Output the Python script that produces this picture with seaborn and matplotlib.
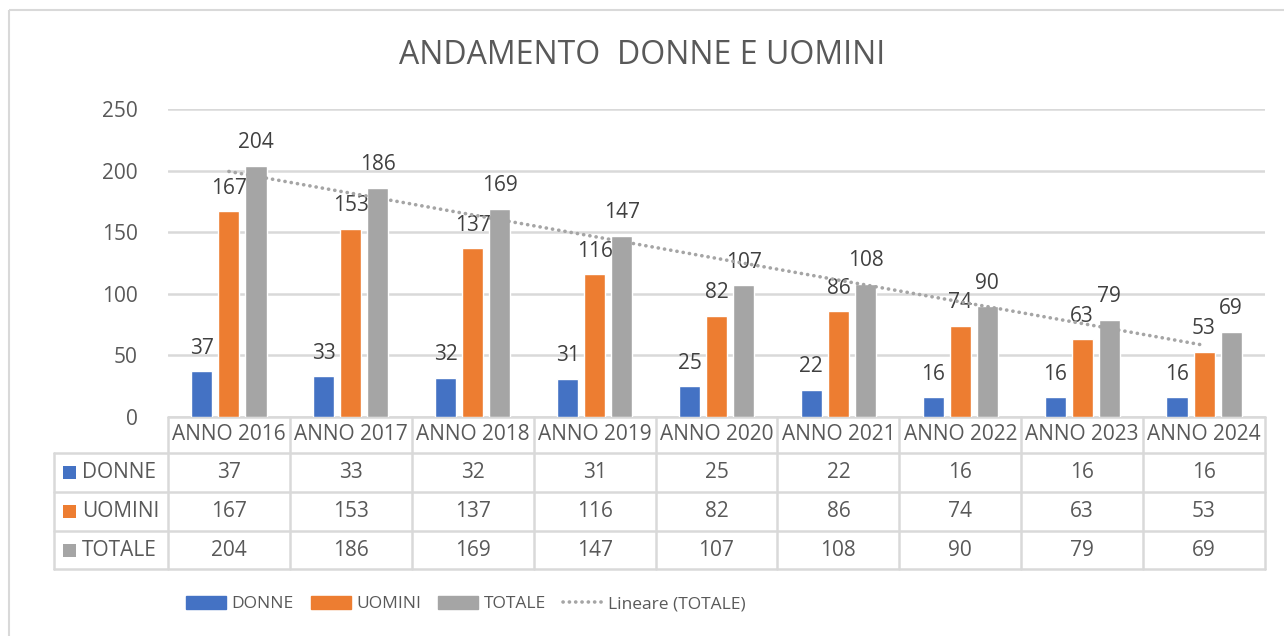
import numpy as np
import pandas as pd
import seaborn as sns
import matplotlib.pyplot as plt
from matplotlib import transforms
from matplotlib.patches import Patch, Rectangle
from matplotlib.lines import Line2D

# Data
anni = ["ANNO 2016", "ANNO 2017", "ANNO 2018", "ANNO 2019", "ANNO 2020",
        "ANNO 2021", "ANNO 2022", "ANNO 2023", "ANNO 2024"]
donne = [37, 33, 32, 31, 25, 22, 16, 16, 16]
uomini = [167, 153, 137, 116, 82, 86, 74, 63, 53]
totale = [204, 186, 169, 147, 107, 108, 90, 79, 69]
gruppi = ["DONNE", "UOMINI", "TOTALE"]
colori = ["#4472C4", "#ED7D31", "#A5A5A5"]
yticks = [0, 50, 100, 150, 200, 250]

serie = {"DONNE": donne, "UOMINI": uomini, "TOTALE": totale}
df = pd.DataFrame([(a, g, serie[g][i]) for g in gruppi for i, a in enumerate(anni)],
                  columns=["anno", "gruppo", "valore"])

sns.set_theme(style="white")
plt.rcParams['font.family'] = ['Open Sans', 'DejaVu Sans']
txt = "#595959"

W, H = 1284, 636
fig = plt.figure(figsize=(W / 100, H / 100), dpi=100)

# overlay in pixel coordinates (border, table, legend)
ov = fig.add_axes([0, 0, 1, 1])
ov.set_xlim(0, W)
ov.set_ylim(H, 0)
ov.axis("off")
ov.add_patch(Rectangle((9, 10), W + 20, H + 20, fill=False, ec="#d9d9d9", lw=1.5))

# main plot area
x0, x1, ytop, ybot = 168, 1265, 109, 417
ax = fig.add_axes([x0 / W, 1 - ybot / H, (x1 - x0) / W, (ybot - ytop) / H])
ax.patch.set_alpha(0)
sns.barplot(data=df, x="anno", y="valore", hue="gruppo", hue_order=gruppi,
            palette=colori, saturation=1, width=0.666, gap=0.22, errorbar=None,
            legend=False, ax=ax, zorder=3)
for cont in ax.containers:
    ax.bar_label(cont, padding=9, fontsize=15, color="#404040")

# linear trendline of TOTALE
xs = np.arange(len(anni))
k, q = np.polyfit(xs, totale, 1)
ax.plot(xs, k * xs + q, color="#A5A5A5", lw=2.6, linestyle=(0, (0.05, 1.7)),
        dash_capstyle="round", zorder=4)

ax.set_xlim(-0.5, len(anni) - 0.5)
ax.set_ylim(0, 250)
ax.set_yticks(yticks)
ax.set_xticks([])
ax.set_xlabel("")
ax.set_ylabel("")
ax.tick_params(axis="y", length=0, pad=22, labelsize=15, labelcolor=txt)
ax.yaxis.grid(True, color="#d9d9d9", lw=1.8, zorder=0)
ax.set_axisbelow(True)
for s in ax.spines.values():
    s.set_visible(False)

# title
fig.text(642 / W, 1 - 55 / H, "ANDAMENTO  DONNE E UOMINI", ha="center", va="center",
         fontsize=23, color=txt)

# data table
bt = transforms.blended_transform_factory(ax.transData, ov.transData)
rows = [417, 453, 492, 531, 569]
lc = "#d9d9d9"
ov.plot([x0, x1], [rows[0], rows[0]], color=lc, lw=1.8)
for r in rows[1:]:
    ov.plot([54, x1], [r, r], color=lc, lw=1.8)
ov.plot([54, 54], [rows[1], rows[-1]], color=lc, lw=1.8)
for b in np.arange(len(anni) + 1) - 0.5:
    ax.plot([b, b], [rows[0], rows[-1]], color=lc, lw=1.8, transform=bt, clip_on=False)

for i, a in enumerate(anni):
    ax.text(i, (rows[0] + rows[1]) / 2, a, transform=bt, ha="center", va="center",
            fontsize=15, color=txt)
    for j, g in enumerate(gruppi):
        ax.text(i, (rows[j + 1] + rows[j + 2]) / 2, str(serie[g][i]), transform=bt,
                ha="center", va="center", fontsize=15, color=txt)

for j, g in enumerate(gruppi):
    yc = (rows[j + 1] + rows[j + 2]) / 2
    ov.add_patch(Rectangle((63, yc - 6.5), 13, 13, color=colori[j], lw=0))
    ov.text(82, yc, g, ha="left", va="center", fontsize=15, color=txt)

# legend
handles = [Patch(color=c, label=g) for c, g in zip(colori, gruppi)]
handles.append(Line2D([], [], color="#A5A5A5", lw=2.6, linestyle=(0, (0.05, 1.7)),
                      dash_capstyle="round", label="Lineare (TOTALE)"))
fig.legend(handles=handles, loc="center", bbox_to_anchor=(466 / W, 1 - 604 / H),
           ncol=4, frameon=False, handlelength=2.3, handleheight=0.85,
           handletextpad=0.3, columnspacing=1.0, fontsize=12.5, labelcolor=txt)

fig.savefig("out.png", dpi=100)
